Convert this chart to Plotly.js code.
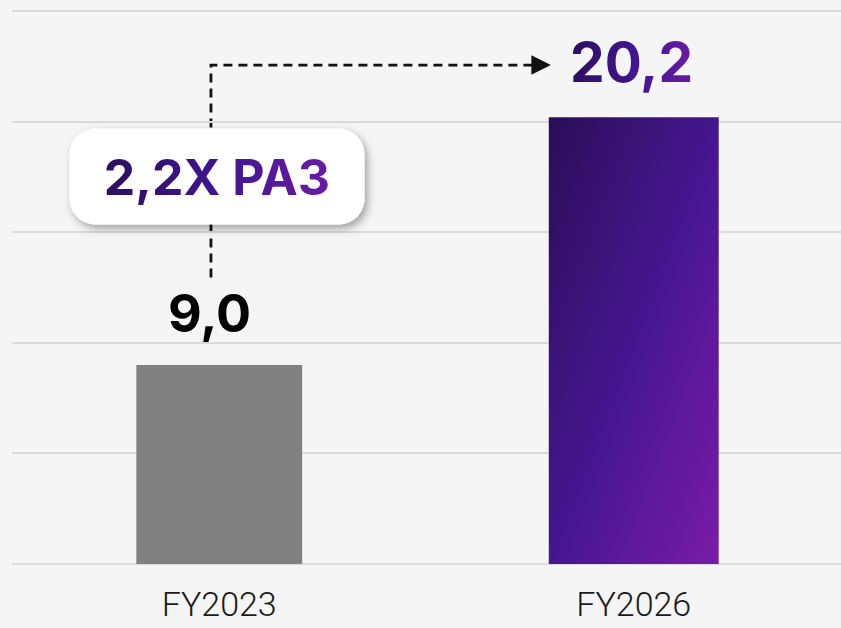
<!DOCTYPE html>
<html>
<head>
<meta charset="utf-8">
<script src="https://cdn.plot.ly/plotly-3.0.1.min.js"></script>
<style>
html,body{margin:0;padding:0;background:#f4f5f4;}
#chart{width:841px;height:628px;}
</style>
</head>
<body>
<div id="chart"></div>
<script>
// ---- data ----
const categories = ['FY2023', 'FY2026'];
const values = [9.0, 20.2];
const valueLabels = values.map(v => v.toFixed(1).replace('.', ','));
const growthLabel = '2,2Х РАЗ';
const barColors = ['#808080', '#4a178f'];
const labelColors = ['#000000', '#4a178f'];

const trace = {
  type: 'bar',
  x: categories,
  y: values,
  width: [0.40, 0.41],
  marker: {color: barColors, line: {width: 0}},
  hoverinfo: 'skip'
};

const valueAnnotations = categories.map((c, i) => ({
  x: c, y: values[i], xref: 'x', yref: 'y',
  text: '<b>' + valueLabels[i] + '</b>',
  showarrow: false, yanchor: 'bottom',
  yshift: i === 0 ? 18 : 20, xshift: i === 0 ? -10 : -2,
  font: {family: 'Inter, Lato, sans-serif', size: i === 0 ? 52 : 55, color: labelColors[i], weight: 800}
}));

const layout = {
  width: 841, height: 628,
  paper_bgcolor: '#f4f5f4', plot_bgcolor: '#f4f5f4',
  margin: {l: 12, r: 0, t: 0, b: 64},
  showlegend: false,
  xaxis: {
    type: 'category', range: [-0.5, 1.5], fixedrange: true,
    showgrid: false, zeroline: false, showline: false, ticks: '',
    tickfont: {family: 'Roboto, Inter, sans-serif', size: 34, color: '#1a1a1a', weight: 300},
    ticklabelstandoff: 17
  },
  yaxis: {
    range: [0, 25.5], dtick: 5, showticklabels: false,
    showgrid: true, gridcolor: '#d9dad9', gridwidth: 2,
    zeroline: true, zerolinecolor: '#d9dad9', zerolinewidth: 2,
    ticks: '', fixedrange: true
  },
  shapes: [{
    type: 'path', xref: 'x', yref: 'y', layer: 'below',
    path: 'M -0.02,12.95 L -0.02,22.56 L 0.78,22.56',
    line: {color: '#111111', width: 2.8, dash: '9px,6px'}
  }],
  annotations: valueAnnotations.concat([
    {
      x: 0.80, y: 22.56, xref: 'x', yref: 'y', ax: -10, ay: 0,
      showarrow: true, arrowhead: 2, arrowsize: 1.5, arrowwidth: 2.6,
      arrowcolor: '#111111', standoff: 0, text: ''
    },
    {
      x: -0.005, y: 17.5, xref: 'x', yref: 'y',
      text: '<b>' + growthLabel + '</b>', showarrow: false,
      bgcolor: '#ffffff', width: 294, height: 95, borderpad: 0,
      font: {family: 'Inter, Lato, sans-serif', size: 50, color: '#3a1380', weight: 800}
    }
  ])
};

Plotly.newPlot('chart', [trace], layout, {staticPlot: true, displayModeBar: false}).then(gd => {
  const svg = gd.querySelector('svg.main-svg');
  const ns = 'http://www.w3.org/2000/svg';
  let defs = svg.querySelector('defs');
  if (!defs) { defs = document.createElementNS(ns, 'defs'); svg.insertBefore(defs, svg.firstChild); }
  function grad(id, stops, x2, y2) {
    const g = document.createElementNS(ns, 'linearGradient');
    g.setAttribute('id', id);
    g.setAttribute('x1', '0'); g.setAttribute('y1', '0');
    g.setAttribute('x2', x2); g.setAttribute('y2', y2);
    stops.forEach(s => {
      const st = document.createElementNS(ns, 'stop');
      st.setAttribute('offset', s[0]); st.setAttribute('stop-color', s[1]);
      g.appendChild(st);
    });
    defs.appendChild(g);
  }
  grad('barGrad', [['0', '#2b0e58'], ['0.5', '#45168f'], ['1', '#7a1ca6']], '1', '1');
  grad('txtGrad', [['0', '#2d0f5e'], ['0.5', '#3f1590'], ['1', '#6a1ca3']], '1', '0');
  const f = document.createElementNS(ns, 'filter');
  f.setAttribute('id', 'shadow');
  f.setAttribute('x', '-20%'); f.setAttribute('y', '-30%');
  f.setAttribute('width', '140%'); f.setAttribute('height', '160%');
  const ds = document.createElementNS(ns, 'feDropShadow');
  ds.setAttribute('dx', '3'); ds.setAttribute('dy', '4');
  ds.setAttribute('stdDeviation', '4');
  ds.setAttribute('flood-color', '#000'); ds.setAttribute('flood-opacity', '0.35');
  f.appendChild(ds); defs.appendChild(f);

  const bars = gd.querySelectorAll('.bars .point path');
  if (bars[1]) bars[1].style.fill = 'url(#barGrad)';

  const anns = gd.querySelectorAll('.annotation');
  const t2 = anns[1] && anns[1].querySelector('text');
  if (t2) t2.style.fill = 'url(#txtGrad)';
  const box = anns[anns.length - 1];
  if (box) {
    const bg = box.querySelector('rect.bg');
    if (bg) { bg.setAttribute('rx', '26'); bg.setAttribute('ry', '26'); bg.style.filter = 'url(#shadow)'; }
    const tt = box.querySelector('text');
    if (tt) tt.style.fill = 'url(#txtGrad)';
  }
});
</script>
</body>
</html>
